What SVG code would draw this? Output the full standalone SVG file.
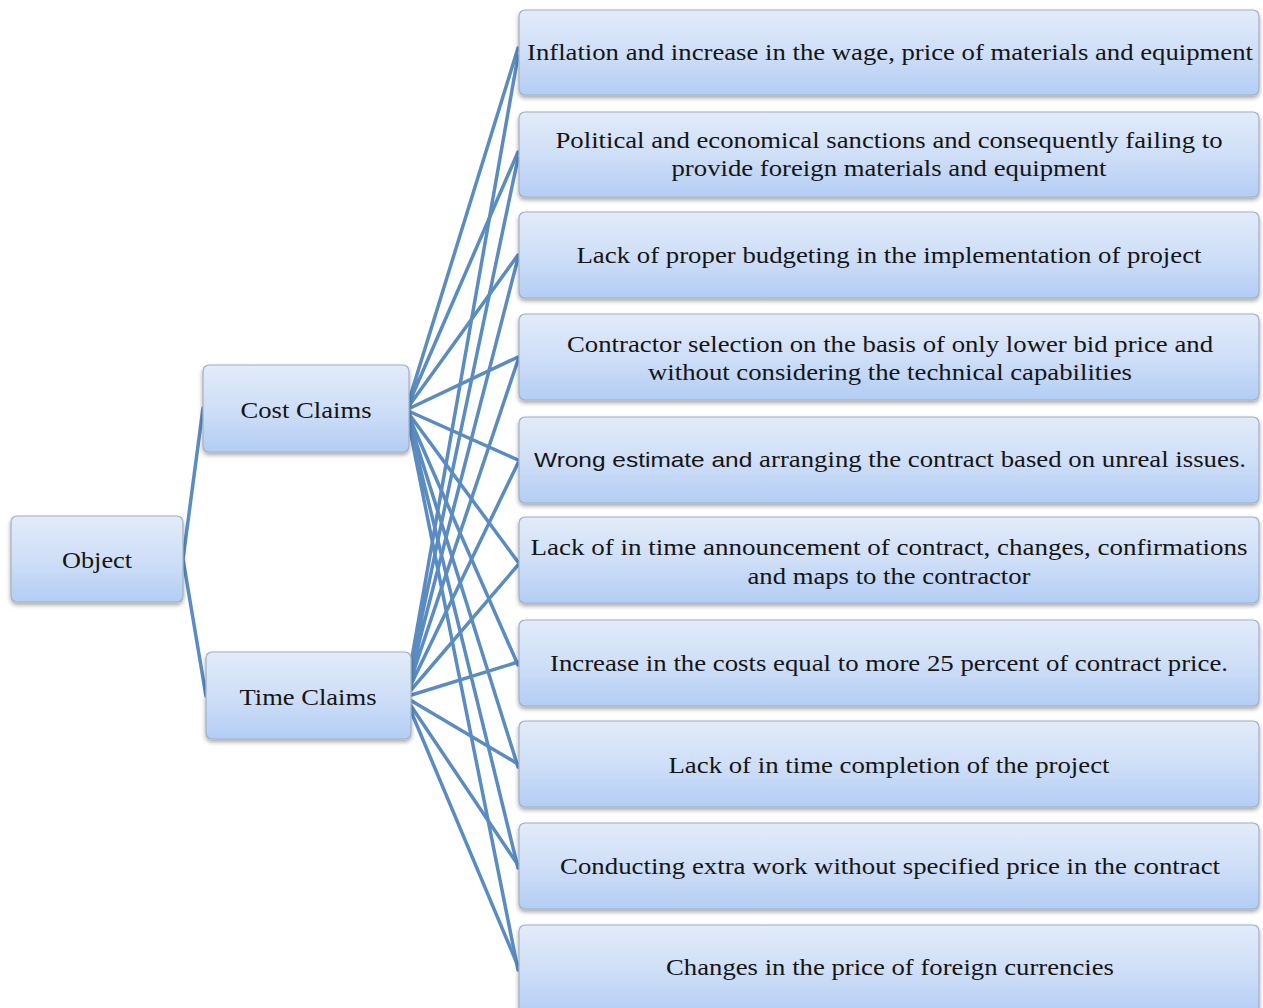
<svg xmlns="http://www.w3.org/2000/svg" width="1263" height="1008" viewBox="0 0 1263 1008">
<defs>
<linearGradient id="g" x1="0" y1="0" x2="0" y2="1">
<stop offset="0" stop-color="#e2ebf9"/>
<stop offset="0.5" stop-color="#cfdff7"/>
<stop offset="1" stop-color="#b3cdf4"/>
</linearGradient>
<filter id="sh" x="-5%" y="-10%" width="110%" height="130%">
<feDropShadow dx="0" dy="2.5" stdDeviation="2" flood-color="#000" flood-opacity="0.35"/>
</filter>
</defs>
<style>
.box{fill:url(#g);stroke:#9fb0c6;stroke-width:1.2;filter:url(#sh)}
.t{font-family:"Liberation Serif","Times New Roman",serif;font-size:23px;fill:#151515;text-anchor:middle}
.s{font-family:"Liberation Sans",Arial,sans-serif;font-size:21px}
.c{fill:none;stroke:#5a8cc2;stroke-width:3.5;stroke-linecap:round}
</style>
<rect width="1263" height="1008" fill="#fff"/>
<g id="connectors">
<path class="c" d="M183 559 L203 408 M183 559 L206 696"/>
<path class="c" d="M406 410 L518 48 M406 410 L518 152 M406 410 L518 255 M406 410 L518 357 M406 410 L518 460 M406 410 L518 562 M406 410 L518 665 M406 410 L518 767 M406 410 L518 868 M406 410 L518 970"/>
<path class="c" d="M405 697 L518 56 M405 697 L518 158 M405 697 L518 258 M405 697 L518 360 M405 697 L518 463 M405 697 L518 565 M405 697 L518 662 M405 697 L518 764 M405 697 L518 865 M405 697 L518 966"/>
</g>
<g id="object"><rect class="box" x="11" y="516" width="172" height="86" rx="6"/><text class="t" x="97" y="568" textLength="70" lengthAdjust="spacingAndGlyphs">Object</text></g>
<g id="cost"><rect class="box" x="203" y="365" width="206" height="87" rx="6"/><text class="t" x="306" y="418" textLength="131" lengthAdjust="spacingAndGlyphs">Cost Claims</text></g>
<g id="time"><rect class="box" x="206" y="652" width="205" height="87" rx="6"/><text class="t" x="308" y="705" textLength="137" lengthAdjust="spacingAndGlyphs">Time Claims</text></g>
<g id="n1"><rect class="box" x="519" y="10" width="740" height="85" rx="6"/><text class="t" x="890" y="60" textLength="726" lengthAdjust="spacingAndGlyphs">Inflation and increase in the wage, price of materials and equipment</text></g>
<g id="n2"><rect class="box" x="519" y="112" width="740" height="85" rx="6"/><text class="t" x="889" y="148" textLength="667" lengthAdjust="spacingAndGlyphs">Political and economical sanctions and consequently failing to</text><text class="t" x="889" y="176" textLength="435" lengthAdjust="spacingAndGlyphs">provide foreign materials and equipment</text></g>
<g id="n3"><rect class="box" x="519" y="212" width="740" height="86" rx="6"/><text class="t" x="889" y="263" textLength="625" lengthAdjust="spacingAndGlyphs">Lack of proper budgeting in the implementation of project</text></g>
<g id="n4"><rect class="box" x="519" y="314" width="740" height="86" rx="6"/><text class="t" x="890" y="352" textLength="646" lengthAdjust="spacingAndGlyphs">Contractor selection on the basis of only lower bid price and</text><text class="t" x="890" y="380" textLength="484" lengthAdjust="spacingAndGlyphs">without considering the technical capabilities</text></g>
<g id="n5"><rect class="box" x="519" y="417" width="740" height="86" rx="6"/><text class="t" x="890" y="467" textLength="712" lengthAdjust="spacingAndGlyphs"><tspan class="s">Wrong estimate and </tspan>arranging the contract based on unreal issues.</text></g>
<g id="n6"><rect class="box" x="519" y="517" width="740" height="86" rx="6"/><text class="t" x="889" y="555" textLength="717" lengthAdjust="spacingAndGlyphs">Lack of in time announcement  of contract, changes, confirmations</text><text class="t" x="889" y="584" textLength="283" lengthAdjust="spacingAndGlyphs">and maps to the contractor</text></g>
<g id="n7"><rect class="box" x="519" y="620" width="740" height="86" rx="6"/><text class="t" x="889" y="671" textLength="678" lengthAdjust="spacingAndGlyphs">Increase in the costs equal to more 25 percent of contract price.</text></g>
<g id="n8"><rect class="box" x="519" y="721" width="740" height="86" rx="6"/><text class="t" x="889" y="773" textLength="441" lengthAdjust="spacingAndGlyphs">Lack of in time completion of the project</text></g>
<g id="n9"><rect class="box" x="519" y="823" width="740" height="86" rx="6"/><text class="t" x="890" y="874" textLength="660" lengthAdjust="spacingAndGlyphs">Conducting extra work without specified price in the contract</text></g>
<g id="n10"><rect class="box" x="519" y="925" width="740" height="90" rx="6"/><text class="t" x="890" y="975" textLength="448" lengthAdjust="spacingAndGlyphs">Changes in the price of foreign currencies</text></g>
</svg>
